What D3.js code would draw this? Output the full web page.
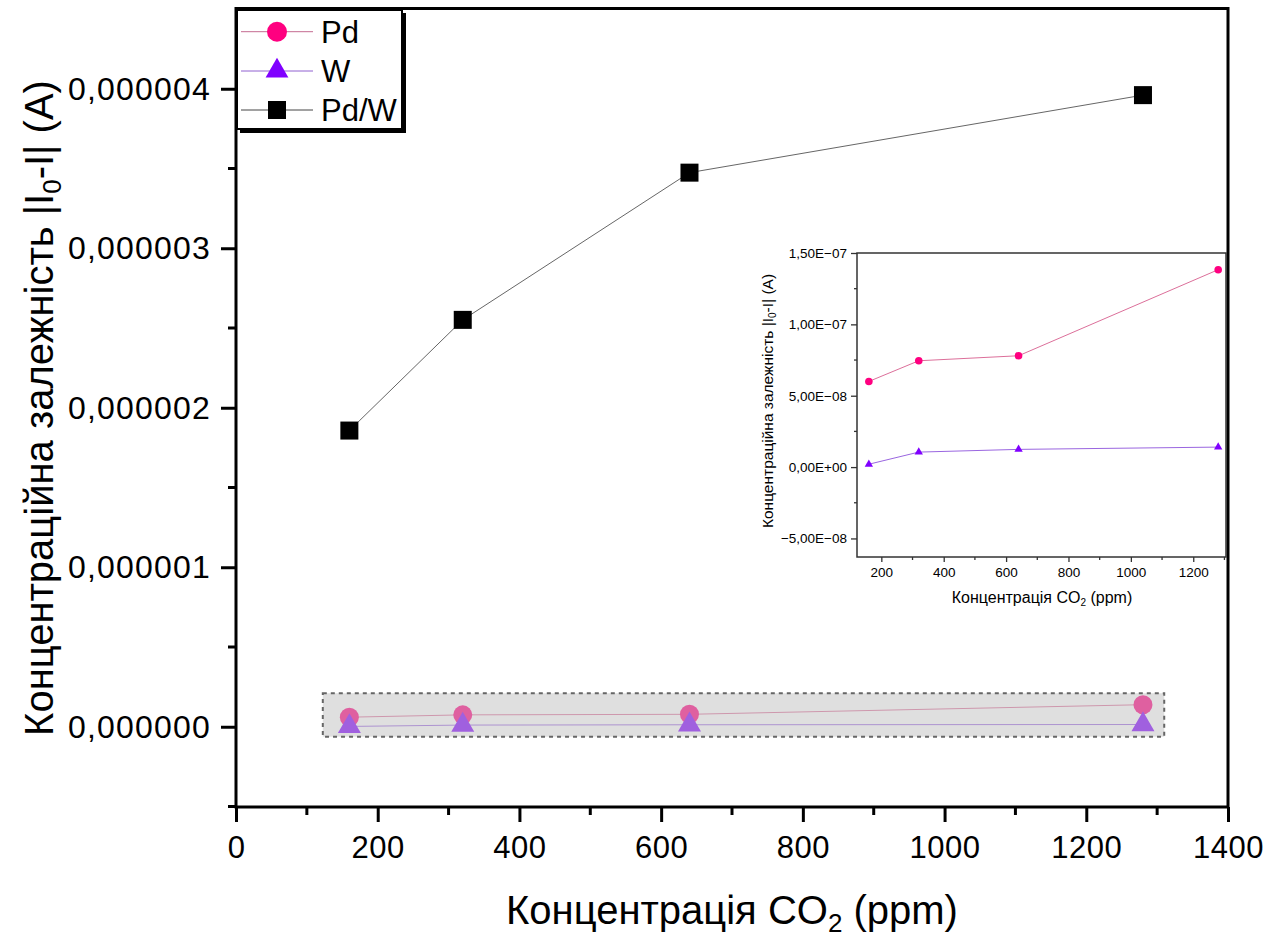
<!DOCTYPE html>
<html><head><meta charset="utf-8">
<script src="https://cdn.jsdelivr.net/npm/d3@7"></script>
<style>body{margin:0;background:#fff}svg{display:block;font-family:"Liberation Sans",Arial,sans-serif}</style>
</head><body>
<svg id="c" width="1283" height="934"></svg>
<script>
const concentrations = [160, 320, 640, 1280];
const pdValues = [6.0e-8, 7.45e-8, 7.8e-8, 1.383e-7];
const wValues = [2.0e-9, 1.05e-8, 1.24e-8, 1.40e-8];
const pdwValues = [1.857e-6, 2.551e-6, 3.474e-6, 3.96e-6];
const seriesNames = ["Pd", "W", "Pd/W"];
const mainXTicks = [0, 200, 400, 600, 800, 1000, 1200, 1400];
const mainYTicks = [0, 1e-6, 2e-6, 3e-6, 4e-6];
const mainYTickLabels = ["0,000000", "0,000001", "0,000002", "0,000003", "0,000004"];
const insetXTicks = [200, 400, 600, 800, 1000, 1200];
const insetYTicks = [-5e-8, 0, 5e-8, 1e-7, 1.5e-7];
const insetYTickLabels = ["\u22125,00E\u221208", "0,00E+00", "5,00E\u221208", "1,00E\u221207", "1,50E\u221207"];

const svg = d3.select("#c");
const colPd = "#ff0080", colW = "#8000ff", colPdW = "#000";
const linePd = "#dc6f9a", lineW = "#9a66e0", linePdW = "#666";

// ---------- main chart ----------
const x = d3.scaleLinear().domain([0, 1400]).range([236, 1228]);
const y = d3.scaleLinear().domain([-0.5e-6, 4.5e-6]).range([806.5, 9]);

const main = svg.append("g");
const mkLine = (xs, ys) => d3.line().x((d, i) => xs(concentrations[i])).y(d => ys(d));

main.append("path").datum(pdwValues).attr("d", mkLine(x, y)).attr("fill", "none").attr("stroke", linePdW).attr("stroke-width", 1);
main.append("path").datum(pdValues).attr("d", mkLine(x, y)).attr("fill", "none").attr("stroke", linePd).attr("stroke-width", 1);
main.append("path").datum(wValues).attr("d", mkLine(x, y)).attr("fill", "none").attr("stroke", lineW).attr("stroke-width", 1);

main.selectAll(".sq").data(pdwValues).join("rect")
  .attr("x", (d, i) => x(concentrations[i]) - 9).attr("y", d => y(d) - 9)
  .attr("width", 18).attr("height", 18).attr("fill", colPdW);
main.selectAll(".ci").data(pdValues).join("circle")
  .attr("cx", (d, i) => x(concentrations[i])).attr("cy", d => y(d)).attr("r", 9.5).attr("fill", colPd);
const triMain = d3.symbol(d3.symbolTriangle, 229);
main.selectAll(".tr").data(wValues).join("path")
  .attr("d", triMain).attr("transform", (d, i) => `translate(${x(concentrations[i])},${y(d)})`).attr("fill", colW);

// highlight box
main.append("rect")
  .attr("x", x(122.5)).attr("y", y(0.21e-6))
  .attr("width", x(1310) - x(122.5)).attr("height", y(-0.062e-6) - y(0.21e-6))
  .attr("fill", "#c0c0c0").attr("fill-opacity", 0.5)
  .attr("stroke", "#666").attr("stroke-width", 2).attr("stroke-dasharray", "4,4");

// axes
const xAxis = d3.axisBottom(x).tickValues(mainXTicks).tickSize(15).tickPadding(14).tickFormat(d3.format("d"));
const gx = main.append("g").attr("transform", "translate(0,807)").call(xAxis);
gx.select(".domain").remove();
gx.selectAll("line").attr("stroke", "#000").attr("stroke-width", 3);
gx.selectAll("text").attr("font-size", 31).attr("letter-spacing", 0.5).attr("fill", "#000").attr("font-family", "Liberation Sans");
main.append("g").attr("transform", "translate(0,807)")
  .selectAll("line").data(d3.range(100, 1400, 200)).join("line")
  .attr("x1", d => x(d)).attr("x2", d => x(d)).attr("y1", 0).attr("y2", 8).attr("stroke", "#000").attr("stroke-width", 3);

const yAxis = d3.axisLeft(y).tickValues(mainYTicks).tickSize(15).tickPadding(10).tickFormat((d, i) => mainYTickLabels[i]);
const gy = main.append("g").attr("transform", "translate(236,0)").call(yAxis);
gy.select(".domain").remove();
gy.selectAll("line").attr("stroke", "#000").attr("stroke-width", 3);
gy.selectAll("text").attr("font-size", 32).attr("letter-spacing", 1.2).attr("fill", "#000").attr("font-family", "Liberation Sans");
main.append("g").attr("transform", "translate(236,0)")
  .selectAll("line").data([-0.5e-6, 0.5e-6, 1.5e-6, 2.5e-6, 3.5e-6]).join("line")
  .attr("y1", d => y(d)).attr("y2", d => y(d)).attr("x1", 0).attr("x2", -8).attr("stroke", "#000").attr("stroke-width", 3);

main.append("rect").attr("x", 236).attr("y", 8.5).attr("width", 1228 - 236).attr("height", 807 - 8.5)
  .attr("fill", "none").attr("stroke", "#000").attr("stroke-width", 3);

// titles
const xt = main.append("text").attr("x", 732).attr("y", 924).attr("text-anchor", "middle").attr("font-size", 40).attr("fill", "#000");
xt.append("tspan").text("Концентрація CO");
xt.append("tspan").attr("font-size", 26).attr("dy", 8).text("2");
xt.append("tspan").attr("dy", -8).text(" (ppm)");

const yt = main.append("text").attr("transform", "translate(53,408) rotate(-90)").attr("text-anchor", "middle").attr("font-size", 40).attr("fill", "#000");
yt.append("tspan").text("Концентраційна залежність |I");
yt.append("tspan").attr("font-size", 26).attr("dy", 8).text("0");
yt.append("tspan").attr("dy", -8).text("-I| (A)");

// legend
const lg = main.append("g");
lg.append("rect").attr("x", 240).attr("y", 13).attr("width", 166).attr("height", 120).attr("fill", "#000");
lg.append("rect").attr("x", 237).attr("y", 10).attr("width", 165).attr("height", 119).attr("fill", "#fff").attr("stroke", "#000").attr("stroke-width", 2);
const legRows = [31.7, 71, 110];
const legLineCols = ["#c46a90", "#9060d0", "#444"];
seriesNames.forEach((name, i) => {
  const cy = legRows[i];
  lg.append("line").attr("x1", 241).attr("x2", 313).attr("y1", cy).attr("y2", cy).attr("stroke", legLineCols[i]).attr("stroke-width", 1);
  if (i === 0) lg.append("circle").attr("cx", 277).attr("cy", cy).attr("r", 10).attr("fill", colPd);
  if (i === 1) lg.append("path").attr("d", d3.symbol(d3.symbolTriangle, 225)).attr("transform", `translate(277,${cy})`).attr("fill", colW);
  if (i === 2) lg.append("rect").attr("x", 277 - 9).attr("y", cy - 9).attr("width", 18).attr("height", 18).attr("fill", colPdW);
  lg.append("text").attr("x", 321).attr("y", cy + 11).attr("font-size", 31).attr("fill", "#000").text(name);
});

// ---------- inset ----------
const xi = d3.scaleLinear().domain([122, 1305]).range([857, 1226]);
const yi = d3.scaleLinear().domain([-6.3e-8, 1.5e-7]).range([557, 253]);
const ins = svg.append("g");
ins.append("rect").attr("x", 857).attr("y", 253).attr("width", 1226 - 857).attr("height", 557 - 253).attr("fill", "#fff");

ins.append("path").datum(pdValues).attr("d", mkLine(xi, yi)).attr("fill", "none").attr("stroke", linePd).attr("stroke-width", 1);
ins.append("path").datum(wValues).attr("d", mkLine(xi, yi)).attr("fill", "none").attr("stroke", lineW).attr("stroke-width", 1);
ins.selectAll(".ci").data(pdValues).join("circle")
  .attr("cx", (d, i) => xi(concentrations[i])).attr("cy", d => yi(d)).attr("r", 3.8).attr("fill", colPd);
ins.selectAll(".tr").data(wValues).join("path")
  .attr("d", d3.symbol(d3.symbolTriangle, 30)).attr("transform", (d, i) => `translate(${xi(concentrations[i])},${yi(d)})`).attr("fill", colW);

const xai = d3.axisBottom(xi).tickValues(insetXTicks).tickSize(5).tickPadding(5).tickFormat(d3.format("d"));
const gxi = ins.append("g").attr("transform", "translate(0,557)").call(xai);
gxi.select(".domain").remove();
gxi.selectAll("line").attr("stroke", "#333").attr("stroke-width", 1.3);
gxi.selectAll("text").attr("font-size", 13.5).attr("fill", "#000").attr("font-family", "Liberation Sans");
ins.append("g").attr("transform", "translate(0,557)")
  .selectAll("line").data(d3.range(300, 1305, 200)).join("line")
  .attr("x1", d => xi(d)).attr("x2", d => xi(d)).attr("y1", 0).attr("y2", 3).attr("stroke", "#333").attr("stroke-width", 1.3);

const yai = d3.axisLeft(yi).tickValues(insetYTicks).tickSize(6).tickPadding(4).tickFormat((d, i) => insetYTickLabels[i]);
const gyi = ins.append("g").attr("transform", "translate(857,0)").call(yai);
gyi.select(".domain").remove();
gyi.selectAll("line").attr("stroke", "#333").attr("stroke-width", 1.3);
gyi.selectAll("text").attr("font-size", 13.5).attr("fill", "#000").attr("font-family", "Liberation Sans");
ins.append("g").attr("transform", "translate(857,0)")
  .selectAll("line").data([-2.5e-8, 2.5e-8, 7.5e-8, 1.25e-7]).join("line")
  .attr("y1", d => yi(d)).attr("y2", d => yi(d)).attr("x1", 0).attr("x2", -3).attr("stroke", "#333").attr("stroke-width", 1.3);

ins.append("rect").attr("x", 857).attr("y", 253).attr("width", 1226 - 857).attr("height", 557 - 253)
  .attr("fill", "none").attr("stroke", "#333").attr("stroke-width", 1.5);

const xti = ins.append("text").attr("x", 1042).attr("y", 603).attr("text-anchor", "middle").attr("font-size", 16).attr("fill", "#000");
xti.append("tspan").text("Концентрація CO");
xti.append("tspan").attr("font-size", 10).attr("dy", 3).text("2");
xti.append("tspan").attr("dy", -3).text(" (ppm)");

const yti = ins.append("text").attr("transform", "translate(773,401) rotate(-90)").attr("text-anchor", "middle").attr("font-size", 15.5).attr("fill", "#000");
yti.append("tspan").text("Концентраційна залежність |I");
yti.append("tspan").attr("font-size", 10).attr("dy", 3).text("0");
yti.append("tspan").attr("dy", -3).text("-I| (A)");
</script>
</body></html>
